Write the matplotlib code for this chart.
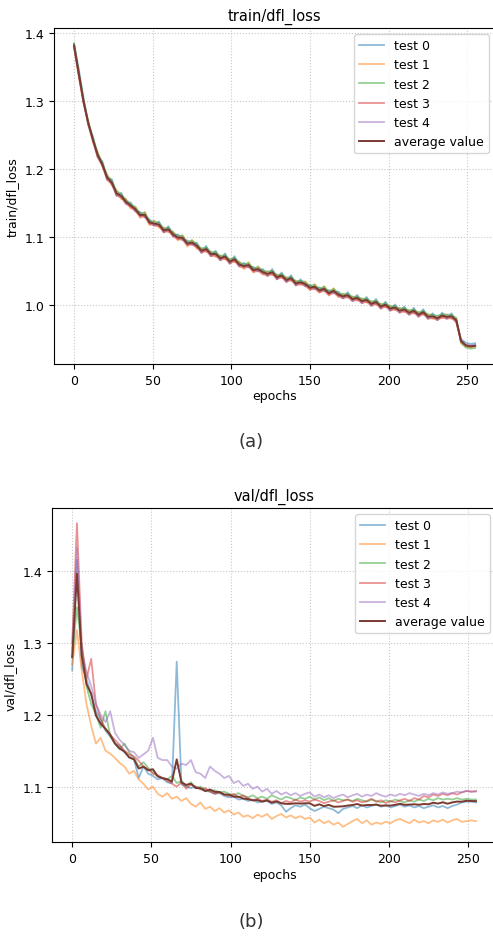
import numpy as np
import matplotlib.pyplot as plt

# epochs sampled every 3rd epoch (0 ... 255)
epochs = np.arange(0, 256, 3)

labels = ["test 0", "test 1", "test 2", "test 3", "test 4"]
colors = ["tab:blue", "tab:orange", "tab:green", "tab:red", "tab:purple"]

train_test0 = [1.384, 1.347, 1.304, 1.266, 1.248, 1.218, 1.211, 1.185, 1.185, 1.161,
               1.165, 1.149, 1.151, 1.138, 1.137, 1.129, 1.126, 1.117, 1.123, 1.107,
               1.116, 1.101, 1.104, 1.096, 1.095, 1.089, 1.092, 1.077, 1.087, 1.072,
               1.080, 1.066, 1.076, 1.061, 1.072, 1.057, 1.062, 1.056, 1.056, 1.050,
               1.053, 1.043, 1.053, 1.038, 1.048, 1.034, 1.044, 1.029, 1.038, 1.028,
               1.030, 1.024, 1.026, 1.021, 1.022, 1.018, 1.020, 1.010, 1.019, 1.006,
               1.015, 1.003, 1.012, 0.999, 1.009, 0.995, 1.005, 0.992, 1.001, 0.989,
               0.998, 0.986, 0.996, 0.983, 0.994, 0.980, 0.988, 0.978, 0.989, 0.980,
               0.988, 0.975, 0.950, 0.945, 0.943, 0.944]
train_test1 = [1.380, 1.336, 1.297, 1.271, 1.240, 1.225, 1.204, 1.192, 1.176, 1.169,
               1.156, 1.156, 1.142, 1.145, 1.128, 1.137, 1.118, 1.124, 1.114, 1.114,
               1.107, 1.108, 1.095, 1.103, 1.086, 1.096, 1.083, 1.084, 1.078, 1.079,
               1.071, 1.073, 1.067, 1.068, 1.063, 1.064, 1.053, 1.063, 1.048, 1.057,
               1.045, 1.050, 1.044, 1.045, 1.040, 1.041, 1.036, 1.036, 1.030, 1.035,
               1.022, 1.031, 1.018, 1.028, 1.014, 1.025, 1.012, 1.017, 1.011, 1.013,
               1.007, 1.010, 1.004, 1.006, 1.001, 1.002, 0.997, 0.999, 0.993, 0.996,
               0.990, 0.993, 0.988, 0.990, 0.986, 0.987, 0.980, 0.984, 0.981, 0.986,
               0.980, 0.981, 0.944, 0.939, 0.938, 0.939]
train_test2 = [1.385, 1.343, 1.303, 1.270, 1.246, 1.224, 1.210, 1.191, 1.183, 1.168,
               1.163, 1.155, 1.149, 1.144, 1.135, 1.136, 1.124, 1.123, 1.121, 1.113,
               1.114, 1.107, 1.102, 1.102, 1.093, 1.095, 1.090, 1.083, 1.085, 1.078,
               1.078, 1.072, 1.074, 1.067, 1.070, 1.063, 1.060, 1.062, 1.054, 1.056,
               1.051, 1.049, 1.051, 1.044, 1.046, 1.040, 1.042, 1.035, 1.036, 1.034,
               1.028, 1.030, 1.024, 1.027, 1.020, 1.024, 1.018, 1.016, 1.017, 1.012,
               1.013, 1.009, 1.010, 1.005, 1.007, 1.001, 1.003, 0.998, 0.999, 0.995,
               0.996, 0.992, 0.994, 0.989, 0.992, 0.986, 0.986, 0.984, 0.987, 0.986,
               0.986, 0.981, 0.945, 0.938, 0.936, 0.937]
train_test3 = [1.381, 1.338, 1.299, 1.265, 1.241, 1.217, 1.205, 1.184, 1.178, 1.161,
               1.158, 1.149, 1.144, 1.138, 1.130, 1.130, 1.119, 1.117, 1.116, 1.107,
               1.109, 1.101, 1.097, 1.096, 1.088, 1.089, 1.085, 1.077, 1.080, 1.072,
               1.073, 1.066, 1.069, 1.061, 1.065, 1.057, 1.055, 1.056, 1.049, 1.050,
               1.046, 1.043, 1.046, 1.038, 1.041, 1.034, 1.037, 1.029, 1.031, 1.028,
               1.023, 1.024, 1.019, 1.021, 1.015, 1.018, 1.013, 1.010, 1.012, 1.006,
               1.008, 1.003, 1.005, 0.999, 1.002, 0.995, 0.998, 0.992, 0.994, 0.989,
               0.991, 0.986, 0.989, 0.983, 0.987, 0.980, 0.981, 0.978, 0.982, 0.980,
               0.981, 0.975, 0.948, 0.941, 0.939, 0.940]
train_test4 = [1.379, 1.339, 1.298, 1.268, 1.242, 1.220, 1.205, 1.187, 1.179, 1.163,
               1.160, 1.151, 1.146, 1.140, 1.132, 1.132, 1.121, 1.119, 1.118, 1.109,
               1.111, 1.103, 1.099, 1.098, 1.090, 1.091, 1.087, 1.079, 1.082, 1.074,
               1.075, 1.068, 1.071, 1.063, 1.067, 1.059, 1.057, 1.058, 1.051, 1.052,
               1.048, 1.045, 1.048, 1.040, 1.043, 1.036, 1.039, 1.031, 1.033, 1.030,
               1.025, 1.026, 1.021, 1.023, 1.017, 1.020, 1.015, 1.012, 1.014, 1.008,
               1.010, 1.005, 1.007, 1.001, 1.004, 0.997, 1.000, 0.994, 0.996, 0.991,
               0.993, 0.988, 0.991, 0.985, 0.989, 0.982, 0.983, 0.980, 0.984, 0.982,
               0.983, 0.977, 0.949, 0.942, 0.941, 0.942]

val_test0 = [1.262, 1.416, 1.268, 1.250, 1.228, 1.205, 1.193, 1.178, 1.170, 1.160,
             1.157, 1.148, 1.142, 1.138, 1.112, 1.128, 1.118, 1.115, 1.110, 1.112,
             1.106, 1.105, 1.274, 1.103, 1.100, 1.098, 1.100, 1.097, 1.094, 1.093,
             1.090, 1.091, 1.087, 1.085, 1.086, 1.082, 1.083, 1.080, 1.082, 1.078,
             1.079, 1.080, 1.076, 1.078, 1.074, 1.065, 1.070, 1.074, 1.072, 1.075,
             1.070, 1.066, 1.069, 1.072, 1.070, 1.068, 1.063, 1.069, 1.071, 1.073,
             1.070, 1.074, 1.071, 1.073, 1.075, 1.072, 1.074, 1.071, 1.073, 1.075,
             1.072, 1.074, 1.071, 1.073, 1.070, 1.072, 1.074, 1.071, 1.073, 1.070,
             1.073, 1.075, 1.078, 1.079, 1.079, 1.078]
val_test1 = [1.270, 1.318, 1.262, 1.215, 1.185, 1.160, 1.168, 1.150, 1.146, 1.140,
             1.133, 1.128, 1.118, 1.122, 1.110, 1.104, 1.096, 1.100, 1.090, 1.086,
             1.091, 1.083, 1.086, 1.080, 1.084, 1.076, 1.072, 1.078, 1.069, 1.072,
             1.066, 1.070, 1.064, 1.067, 1.061, 1.064, 1.058, 1.060, 1.056, 1.061,
             1.058, 1.062, 1.055, 1.059, 1.062, 1.057, 1.060, 1.056, 1.059, 1.055,
             1.057, 1.050, 1.054, 1.049, 1.052, 1.047, 1.050, 1.044, 1.048, 1.052,
             1.055, 1.049, 1.053, 1.047, 1.050, 1.048, 1.051, 1.049, 1.053, 1.055,
             1.052, 1.049, 1.054, 1.050, 1.052, 1.049, 1.053, 1.051, 1.054, 1.050,
             1.053, 1.055, 1.051, 1.052, 1.053, 1.052]
val_test2 = [1.280, 1.350, 1.295, 1.240, 1.215, 1.200, 1.182, 1.205, 1.170, 1.160,
             1.152, 1.160, 1.148, 1.140, 1.128, 1.134, 1.126, 1.120, 1.115, 1.112,
             1.110, 1.115, 1.105, 1.108, 1.101, 1.106, 1.098, 1.100, 1.096, 1.094,
             1.095, 1.092, 1.093, 1.090, 1.088, 1.091, 1.087, 1.085, 1.088, 1.084,
             1.086, 1.083, 1.088, 1.085, 1.082, 1.086, 1.084, 1.081, 1.085, 1.083,
             1.086, 1.082, 1.085, 1.081, 1.084, 1.080, 1.083, 1.081, 1.082, 1.080,
             1.083, 1.081, 1.079, 1.082, 1.080, 1.078, 1.081, 1.079, 1.082, 1.080,
             1.078, 1.081, 1.079, 1.082, 1.080, 1.083, 1.081, 1.084, 1.082, 1.083,
             1.082, 1.084, 1.082, 1.083, 1.082, 1.082]
val_test3 = [1.300, 1.467, 1.300, 1.250, 1.278, 1.215, 1.195, 1.180, 1.172, 1.165,
             1.158, 1.150, 1.145, 1.142, 1.136, 1.128, 1.124, 1.118, 1.116, 1.112,
             1.108, 1.104, 1.100, 1.106, 1.097, 1.103, 1.100, 1.096, 1.098, 1.093,
             1.090, 1.092, 1.089, 1.087, 1.090, 1.085, 1.088, 1.084, 1.081, 1.083,
             1.080, 1.082, 1.079, 1.081, 1.077, 1.080, 1.078, 1.082, 1.079, 1.081,
             1.079, 1.082, 1.080, 1.077, 1.079, 1.081, 1.078, 1.080, 1.082, 1.079,
             1.081, 1.078, 1.080, 1.083, 1.079, 1.081, 1.077, 1.080, 1.078, 1.081,
             1.083, 1.080, 1.084, 1.082, 1.087, 1.085, 1.089, 1.087, 1.090, 1.088,
             1.091, 1.089, 1.092, 1.094, 1.093, 1.094]
val_test4 = [1.290, 1.432, 1.290, 1.260, 1.240, 1.215, 1.200, 1.190, 1.205, 1.175,
             1.165, 1.158, 1.150, 1.148, 1.140, 1.145, 1.150, 1.168, 1.140, 1.137,
             1.137, 1.128, 1.125, 1.132, 1.130, 1.137, 1.120, 1.118, 1.112, 1.128,
             1.122, 1.118, 1.112, 1.115, 1.105, 1.108, 1.101, 1.104, 1.097, 1.100,
             1.093, 1.097, 1.090, 1.094, 1.089, 1.092, 1.088, 1.091, 1.087, 1.090,
             1.092, 1.086, 1.089, 1.085, 1.088, 1.084, 1.087, 1.089, 1.085, 1.088,
             1.090, 1.086, 1.089, 1.087, 1.091, 1.088, 1.086, 1.089, 1.087, 1.090,
             1.088, 1.091, 1.089, 1.087, 1.090, 1.088, 1.091, 1.089, 1.092, 1.090,
             1.091, 1.093, 1.092, 1.094, 1.093, 1.093]

train_runs = [train_test0, train_test1, train_test2, train_test3, train_test4]
val_runs = [val_test0, val_test1, val_test2, val_test3, val_test4]

plt.rcParams['font.size'] = 9

fig = plt.figure(figsize=(4.93, 9.37), dpi=100)
ax1 = fig.add_axes([0.1095, 0.6105, 0.895, 0.3586])
ax2 = fig.add_axes([0.1055, 0.1003, 0.901, 0.3565])

for ax, runs, name in [(ax1, train_runs, "train/dfl_loss"), (ax2, val_runs, "val/dfl_loss")]:
    for run, lab, c in zip(runs, labels, colors):
        ax.plot(epochs, run, color=c, alpha=0.5, linewidth=1.3, label=lab)
    ax.plot(epochs, np.mean(runs, axis=0), color="#7a3a30", linewidth=1.4, label="average value")
    ax.set_title(name, fontsize=10.5)
    ax.set_xlabel("epochs", labelpad=2)
    ax.set_ylabel(name)
    ax.set_xticks([0, 50, 100, 150, 200, 250])
    ax.grid(True, linestyle=":", color="#c8c8c8")
    ax.legend(loc="upper right", fontsize=9)

fig.text(0.509, 0.528, "(a)", ha="center", va="center", fontsize=13, color="#333333")
fig.text(0.509, 0.016, "(b)", ha="center", va="center", fontsize=13, color="#333333")

plt.savefig("out.png", dpi=100)
